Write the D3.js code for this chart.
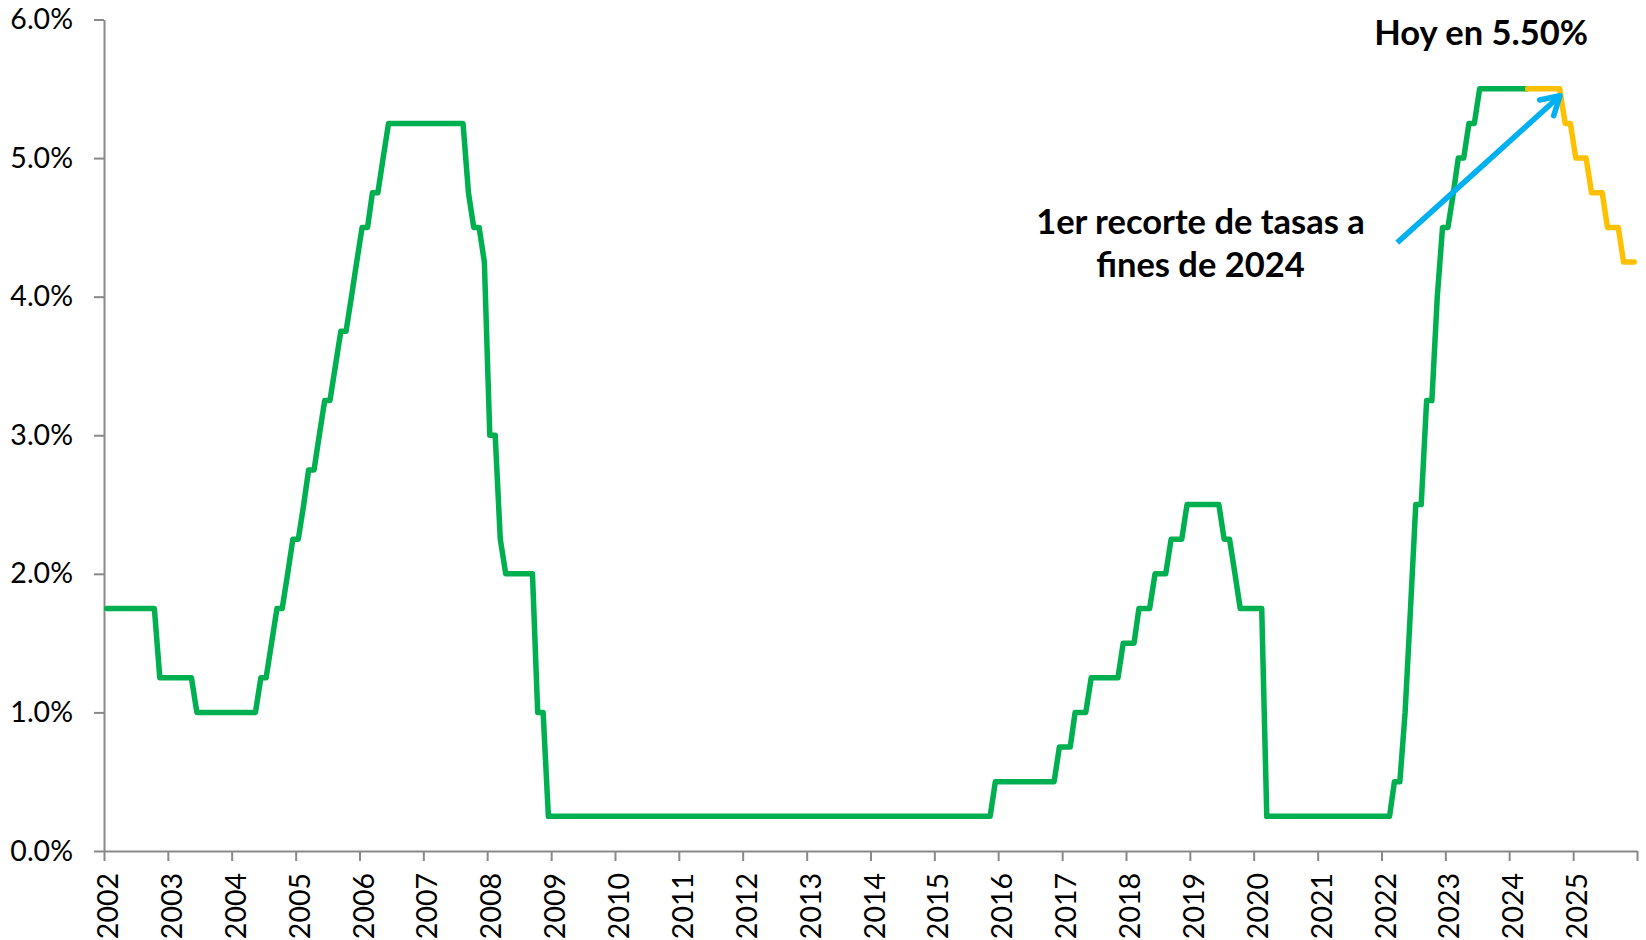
<!DOCTYPE html>
<html>
<head>
<meta charset="utf-8">
<script src="https://cdn.jsdelivr.net/npm/d3@7"></script>
<style>
  html, body { margin: 0; padding: 0; background: #fff; }
  svg { display: block; }
  .axis text { font-family: Lato, "Open Sans", sans-serif; font-size: 28.5px; fill: #000; }
  .axis path, .axis line { stroke: #898989; stroke-width: 2px; }
  .note { font-family: Lato, "Open Sans", sans-serif; font-weight: 700; font-size: 34.5px; fill: #000; }
</style>
</head>
<body>
<svg id="chart" width="1646" height="940"></svg>
<script>
// Fed funds target rate (%), one value per month, starting Jan 2002 (drawn green)
var historyStart = [2002, 0];
var rateHistory = [
  1.75, 1.75, 1.75, 1.75, 1.75, 1.75, 1.75, 1.75, 1.75, 1.75, 1.25, 1.25, // 2002
  1.25, 1.25, 1.25, 1.25, 1.25, 1.00, 1.00, 1.00, 1.00, 1.00, 1.00, 1.00, // 2003
  1.00, 1.00, 1.00, 1.00, 1.00, 1.25, 1.25, 1.50, 1.75, 1.75, 2.00, 2.25, // 2004
  2.25, 2.50, 2.75, 2.75, 3.00, 3.25, 3.25, 3.50, 3.75, 3.75, 4.00, 4.25, // 2005
  4.50, 4.50, 4.75, 4.75, 5.00, 5.25, 5.25, 5.25, 5.25, 5.25, 5.25, 5.25, // 2006
  5.25, 5.25, 5.25, 5.25, 5.25, 5.25, 5.25, 5.25, 4.75, 4.50, 4.50, 4.25, // 2007
  3.00, 3.00, 2.25, 2.00, 2.00, 2.00, 2.00, 2.00, 2.00, 1.00, 1.00, 0.25, // 2008
  0.25, 0.25, 0.25, 0.25, 0.25, 0.25, 0.25, 0.25, 0.25, 0.25, 0.25, 0.25, // 2009
  0.25, 0.25, 0.25, 0.25, 0.25, 0.25, 0.25, 0.25, 0.25, 0.25, 0.25, 0.25, // 2010
  0.25, 0.25, 0.25, 0.25, 0.25, 0.25, 0.25, 0.25, 0.25, 0.25, 0.25, 0.25, // 2011
  0.25, 0.25, 0.25, 0.25, 0.25, 0.25, 0.25, 0.25, 0.25, 0.25, 0.25, 0.25, // 2012
  0.25, 0.25, 0.25, 0.25, 0.25, 0.25, 0.25, 0.25, 0.25, 0.25, 0.25, 0.25, // 2013
  0.25, 0.25, 0.25, 0.25, 0.25, 0.25, 0.25, 0.25, 0.25, 0.25, 0.25, 0.25, // 2014
  0.25, 0.25, 0.25, 0.25, 0.25, 0.25, 0.25, 0.25, 0.25, 0.25, 0.25, 0.50, // 2015
  0.50, 0.50, 0.50, 0.50, 0.50, 0.50, 0.50, 0.50, 0.50, 0.50, 0.50, 0.75, // 2016
  0.75, 0.75, 1.00, 1.00, 1.00, 1.25, 1.25, 1.25, 1.25, 1.25, 1.25, 1.50, // 2017
  1.50, 1.50, 1.75, 1.75, 1.75, 2.00, 2.00, 2.00, 2.25, 2.25, 2.25, 2.50, // 2018
  2.50, 2.50, 2.50, 2.50, 2.50, 2.50, 2.25, 2.25, 2.00, 1.75, 1.75, 1.75, // 2019
  1.75, 1.75, 0.25, 0.25, 0.25, 0.25, 0.25, 0.25, 0.25, 0.25, 0.25, 0.25, // 2020
  0.25, 0.25, 0.25, 0.25, 0.25, 0.25, 0.25, 0.25, 0.25, 0.25, 0.25, 0.25, // 2021
  0.25, 0.25, 0.50, 0.50, 1.00, 1.75, 2.50, 2.50, 3.25, 3.25, 4.00, 4.50, // 2022
  4.50, 4.75, 5.00, 5.00, 5.25, 5.25, 5.50, 5.50, 5.50, 5.50, 5.50, 5.50, // 2023
  5.50, 5.50, 5.50, 5.50                                                  // 2024 (to Apr)
];

// expected path of the rate, one value per month, starting Apr 2024 (drawn yellow)
var outlookStart = [2024, 3];
var rateOutlook = [
  5.50, 5.50, 5.50, 5.50, 5.50, 5.50, 5.50, 5.25, 5.25,                   // 2024 (from Apr)
  5.00, 5.00, 5.00, 4.75, 4.75, 4.75, 4.50, 4.50, 4.50, 4.25, 4.25, 4.25  // 2025
];

var yTicks = [0, 1, 2, 3, 4, 5, 6];
var yearTicks = [2002, 2003, 2004, 2005, 2006, 2007, 2008, 2009, 2010, 2011, 2012, 2013,
                 2014, 2015, 2016, 2017, 2018, 2019, 2020, 2021, 2022, 2023, 2024, 2025, 2026];
var todayLabel = "Hoy en 5.50%";
var cutLabel = ["1er recorte de tasas a", "fines de 2024"];

var svg = d3.select("#chart");

var x = d3.scaleTime()
  .domain([new Date(2002, 0, 1), new Date(2026, 0, 1)])
  .range([104, 1637]);
var y = d3.scaleLinear().domain([0, 6]).range([851, 19.5]);

// turn a list of monthly values into [date, value] pairs (points sit mid-month)
function monthly(start, values) {
  return values.map(function(v, i) {
    return [new Date(start[0], start[1] + i, 16), v];
  });
}

// axes
var yAxis = svg.append("g")
  .attr("class", "axis")
  .attr("transform", "translate(104,0)")
  .call(d3.axisLeft(y).tickValues(yTicks).tickSize(10).tickSizeOuter(0).tickPadding(21)
    .tickFormat(function(d) { return d.toFixed(1) + "%"; }));

var xAxis = svg.append("g")
  .attr("class", "axis")
  .attr("transform", "translate(0,851)")
  .call(d3.axisBottom(x)
    .tickValues(yearTicks.map(function(yr) { return new Date(yr, 0, 1); }))
    .tickSize(10).tickSizeOuter(0)
    .tickFormat(function(d) { return d.getFullYear() < 2026 ? d.getFullYear() : ""; }));

xAxis.selectAll("text")
  .attr("transform", "rotate(-90)")
  .attr("text-anchor", "end")
  .attr("x", -22)
  .attr("y", 13.5)
  .attr("dy", 0);

// rate lines
var line = d3.line()
  .x(function(d) { return x(d[0]); })
  .y(function(d) { return y(d[1]); });

svg.append("path")
  .datum(monthly(historyStart, rateHistory))
  .attr("d", line)
  .attr("fill", "none")
  .attr("stroke", "#00B050")
  .attr("stroke-width", 5.5)
  .attr("stroke-linejoin", "round")
  .attr("stroke-linecap", "round");

svg.append("path")
  .datum(monthly(outlookStart, rateOutlook))
  .attr("d", line)
  .attr("fill", "none")
  .attr("stroke", "#FFC000")
  .attr("stroke-width", 5.5)
  .attr("stroke-linejoin", "round")
  .attr("stroke-linecap", "round");

// arrow pointing at the first expected cut
svg.append("defs").append("marker")
  .attr("id", "head")
  .attr("markerUnits", "userSpaceOnUse")
  .attr("viewBox", "-24 -14 28 28")
  .attr("markerWidth", 28)
  .attr("markerHeight", 28)
  .attr("refX", 0)
  .attr("refY", 0)
  .attr("orient", "auto")
  .append("path")
  .attr("d", "M-18,-10.5L0,0L-18,10.5")
  .attr("fill", "none")
  .attr("stroke", "#00B0F0")
  .attr("stroke-width", 5.5)
  .attr("stroke-linecap", "round")
  .attr("stroke-linejoin", "round");

svg.append("line")
  .attr("x1", x(new Date(2022, 3, 1))).attr("y1", y(4.39))
  .attr("x2", x(new Date(2024, 9, 18))).attr("y2", y(5.45))
  .attr("stroke", "#00B0F0")
  .attr("stroke-width", 5.5)
  .attr("marker-end", "url(#head)");

// notes
svg.append("text")
  .attr("class", "note")
  .attr("text-anchor", "middle")
  .attr("x", x(new Date(2023, 6, 25)))
  .attr("y", y(5.815))
  .text(todayLabel);

svg.append("text")
  .attr("class", "note")
  .attr("text-anchor", "middle")
  .attr("x", x(new Date(2019, 2, 3)))
  .attr("y", y(4.45))
  .selectAll("tspan")
  .data(cutLabel)
  .enter()
  .append("tspan")
  .attr("x", x(new Date(2019, 2, 3)))
  .attr("dy", function(d, i) { return i === 0 ? 0 : 43; })
  .text(function(d) { return d; });
</script>
</body>
</html>
